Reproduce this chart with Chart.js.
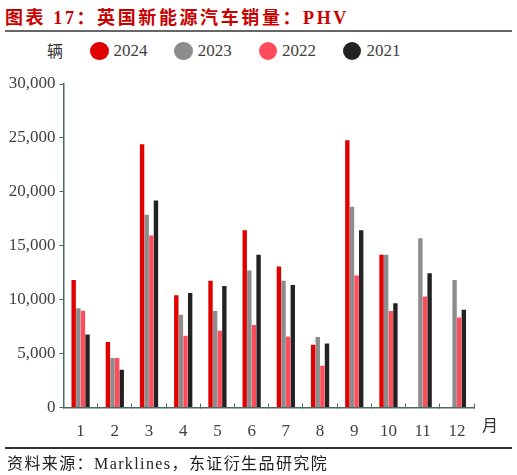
<!DOCTYPE html>
<html>
<head>
<meta charset="utf-8">
<script src="https://cdn.jsdelivr.net/npm/chart.js@4.4.1/dist/chart.umd.min.js"></script>
<style>
  body { margin: 0; background: #fff; }
  #wrap { position: relative; width: 517px; height: 475px; overflow: hidden;
          font-family: "Liberation Serif", "Noto Sans CJK SC", serif; color: #333; }
  #title { position: absolute; left: 5px; top: 3px; font-size: 18px; font-weight: bold;
           color: #c80000; letter-spacing: 2.6px; white-space: nowrap; }
  .rule { position: absolute; left: 5px; width: 507px; }
  #unit { position: absolute; left: 47px; top: 38px; font-size: 16px; }
  #legend { position: absolute; left: 90px; top: 41px; display: flex; }
  #legend .item { width: 84.3px; display: flex; align-items: center; font-size: 17px; color: #404040; }
  #legend .dot { width: 18.5px; height: 18.5px; border-radius: 50%; margin-right: 5px; }
  #cbox { position: absolute; left: 0; top: 66px; width: 517px; height: 398px; }
  #month { position: absolute; left: 482px; top: 412px; font-size: 16px; }
  #source { position: absolute; left: 7px; top: 450px; font-size: 16px; letter-spacing: 1.4px;
            white-space: nowrap; color: #222; }
</style>
</head>
<body>
<div id="wrap">
  <div id="title">图表 17：英国新能源汽车销量：PHV</div>
  <div class="rule" style="top:30px;height:2px;background:#666;"></div>
  <div id="unit">辆</div>
  <div id="legend"></div>
  <div id="cbox"><canvas id="myChart"></canvas></div>
  <div id="month">月</div>
  <div class="rule" style="top:447px;height:1.5px;background:#333;"></div>
  <div id="source">资料来源：Marklines，东证衍生品研究院</div>
</div>
<script>
const months = ['1', '2', '3', '4', '5', '6', '7', '8', '9', '10', '11', '12'];
const sales2024 = [11840, 6080, 24410, 10410, 11750, 16450, 13080, 5830, 24790, 14160, null, null];
const sales2023 = [9200, 4590, 17880, 8610, 8960, 12700, 11750, 6540, 18620, 14160, 15710, 11840];
const sales2022 = [8990, 4590, 15960, 6660, 7130, 7650, 6570, 3880, 12240, 8960, 10290, 8360];
const sales2021 = [6780, 3500, 19210, 10630, 11280, 14160, 11370, 5950, 16450, 9670, 12450, 9080];
const yTicks = [0, 5000, 10000, 15000, 20000, 25000, 30000];

const axisColor = '#4d6666';
const tickFont = { family: 'Liberation Serif', size: 17 };

// html legend built from the chart's own legend items
const htmlLegend = {
  id: 'htmlLegend',
  afterUpdate(chart) {
    const box = document.getElementById('legend');
    box.innerHTML = '';
    const items = chart.options.plugins.legend.labels.generateLabels(chart);
    items.forEach(it => {
      const el = document.createElement('div');
      el.className = 'item';
      const dot = document.createElement('span');
      dot.className = 'dot';
      dot.style.background = it.fillStyle;
      const txt = document.createElement('span');
      txt.textContent = it.text;
      el.appendChild(dot);
      el.appendChild(txt);
      box.appendChild(el);
    });
  }
};

const ctx = document.getElementById('myChart');

new Chart(ctx, {
  type: 'bar',
  data: {
    labels: months,
    datasets: [
      { label: '2024', data: sales2024, backgroundColor: '#e00000' },
      { label: '2023', data: sales2023, backgroundColor: '#8c8c8c' },
      { label: '2022', data: sales2022, backgroundColor: '#ff4b5a' },
      { label: '2021', data: sales2021, backgroundColor: '#222222' }
    ]
  },
  options: {
    responsive: true,
    maintainAspectRatio: false,
    animation: false,
    datasets: {
      bar: { categoryPercentage: 0.54, barPercentage: 0.95 }
    },
    layout: { padding: { top: 18, right: 43, bottom: 5, left: 0 } },
    plugins: {
      legend: { display: false },
      tooltip: { enabled: false }
    },
    scales: {
      x: {
        grid: { drawOnChartArea: false, offset: true, tickLength: -4, color: axisColor, lineWidth: 1 },
        border: { color: axisColor, width: 1.5 },
        ticks: { font: tickFont, color: '#404040', padding: 17.5, maxRotation: 0 }
      },
      y: {
        min: 0,
        max: 30000,
        afterBuildTicks(scale) { scale.ticks = yTicks.map(v => ({ value: v })); },
        afterFit(scale) { scale.width = 63.5; },
        grid: { drawOnChartArea: false, tickLength: 4, color: axisColor, lineWidth: 1 },
        border: { color: axisColor, width: 1.5 },
        ticks: {
          font: tickFont,
          color: '#404040',
          padding: 4,
          callback: v => Number(v).toLocaleString('en-US')
        }
      }
    }
  },
  plugins: [htmlLegend]
});
</script>
</body>
</html>
